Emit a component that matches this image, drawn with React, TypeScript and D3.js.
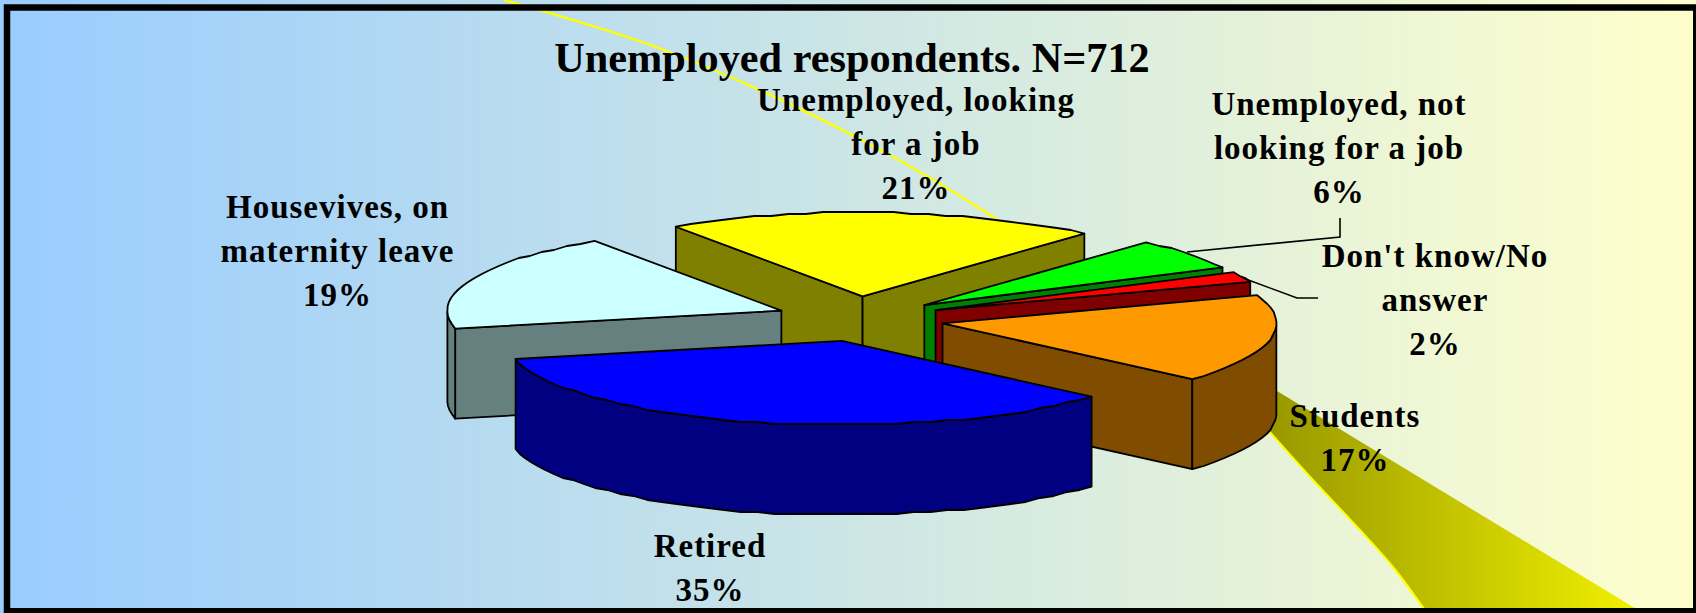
import React from 'react';
import * as d3 from 'd3';

const W = 1696, H = 613;
const categories = ['Unemployed, looking for a job', 'Unemployed, not looking for a job', "Don't know/No answer", 'Students', 'Retired', 'Housevives, on maternity leave'];
const shares = [21, 6, 2, 17, 35, 19];
const topColors = ['#ffff00', '#00ff00', '#ff0000', '#ff9900', '#0000ff', '#ccffff'];
const wallColors = ['#808000', '#008000', '#800000', '#804c00', '#000080', '#667f7f'];
const paintOrder = [0, 1, 2, 3, 5, 4];
const title = 'Unemployed respondents. N=712';
const labelLines = [
  ['Unemployed, looking', 'for a job', '21%'],
  ['Unemployed, not', 'looking for a job', '6%'],
  ["Don't know/No", 'answer', '2%'],
  ['Students', '17%'],
  ['Retired', '35%'],
  ['Housevives, on', 'maternity leave', '19%'],
];
const labelX = [916, 1339, 1435, 1355, 710, 337.5];
const labelFirstY = [111, 115, 267, 427, 557, 218];
const tailHead: [number, number][] = [[504, 0], [664, 50], [856, 137], [993, 217], [1100, 295]];
const tailLower: [number, number][] = [[1268, 430], [1313, 480], [1360, 530], [1393, 567], [1427, 613]];
const tailEdge: [number, number][] = [[1277, 391], [1643, 613]];
const leaderA: [number, number][] = [[1187, 252], [1340, 237], [1340, 218]];
const leaderB: [number, number][] = [[1243, 278], [1297, 298], [1318, 298]];

const cx = 860, cy = 319, rx = 334, ry = 84, depth = 90, explodeX = 0.25, explodeY = 0.27, skew = 0.13;
const toRad = Math.PI / 180;

export default function App() {
  // angle t runs clockwise on screen from +x; the first slice starts at 236 deg
  const arcs = d3.pie<number>().sort(null).startAngle(236 * toRad).endAngle((236 + 360) * toRad)(shares);
  const lineGen = d3.line();
  const tail = d3.line().curve(d3.curveCatmullRom.alpha(0.5));
  const tailHeadPath = tail(tailHead) as string;
  const tailLowerPath = tail(tailLower) as string;
  const comet = tailLowerPath + `L${tailEdge[1][0]},${tailEdge[1][1]}L${tailEdge[0][0]},${tailEdge[0][1]}Z`;

  const slices = paintOrder.map((i) => {
    const a = arcs[i];
    const mid = (a.startAngle + a.endAngle) / 2;
    const oy = cy + explodeY * ry * Math.sin(mid);
    const ox = cx + explodeX * rx * Math.cos(mid) + (oy - cy) * skew;
    const n = Math.max(3, Math.round((a.endAngle - a.startAngle) / toRad / 3));
    const ts = d3.range(n + 1).map((j) => a.startAngle + ((a.endAngle - a.startAngle) * j) / n);
    const rim = ts.map((t, j) => {
      const x = ox + rx * Math.cos(t);
      const y = oy + ry * Math.sin(t);
      const edge = j === 0 || j === n;
      return [x, edge ? y : Math.round(y / 2) * 2] as [number, number];
    });
    const front = rim.filter((_, j) => Math.sin(ts[j]) > -0.001);
    const wallPts: [number, number][] = [...front, ...front.slice().reverse().map(([x, y]) => [x, y + depth] as [number, number])];
    const apex: [number, number] = [ox, oy];
    const quad = (p: [number, number]): [number, number][] => [apex, p, [p[0], p[1] + depth], [ox, oy + depth]];
    const startVisible = Math.cos(a.startAngle) < 0;
    const endVisible = Math.cos(a.endAngle) > 0;
    return (
      <g key={categories[i]} stroke="#000" strokeWidth={1.8} strokeLinejoin="round">
        {startVisible && <path d={lineGen(quad(rim[0])) + 'Z'} fill={wallColors[i]} />}
        {endVisible && <path d={lineGen(quad(rim[rim.length - 1])) + 'Z'} fill={wallColors[i]} />}
        {front.length > 1 && <path d={lineGen(wallPts) + 'Z'} fill={wallColors[i]} />}
        <path d={lineGen([apex, ...rim]) + 'Z'} fill={topColors[i]} />
      </g>
    );
  });

  return (
    <svg width={W} height={H} viewBox={`0 0 ${W} ${H}`} style={{ position: 'fixed', left: 0, top: 0, display: 'block' }}>
      <defs>
        <linearGradient id="bg" x1="0" x2="1" y1="0" y2="0">
          <stop offset="0" stopColor="#99ccff" />
          <stop offset="1" stopColor="#ffffcc" />
        </linearGradient>
        <linearGradient id="cometFill" gradientUnits="userSpaceOnUse" x1={1260} x2={1700} y1={0} y2={0}>
          <stop offset="0" stopColor="#969600" />
          <stop offset="1" stopColor="#ffff00" />
        </linearGradient>
      </defs>
      <rect x={0} y={0} width={W} height={H} fill="url(#bg)" />
      <path d={comet} fill="url(#cometFill)" />
      <path d={tailHeadPath} fill="none" stroke="#ffff00" strokeWidth={2.4} />
      <path d={tailLowerPath} fill="none" stroke="#ffff00" strokeWidth={2} />
      {slices}
      <path d={lineGen(leaderA) as string} fill="none" stroke="#000" strokeWidth={1.6} />
      <path d={lineGen(leaderB) as string} fill="none" stroke="#000" strokeWidth={1.6} />
      <rect x={7} y={7.5} width={1689.25} height={603.75} fill="none" stroke="#000" strokeWidth={6.5} />
      <text x={852} y={72} textAnchor="middle" fontFamily="Liberation Serif" fontWeight="bold" fontSize={42.3} fill="#000">{title}</text>
      {labelLines.map((lines, i) => (
        <text key={categories[i]} textAnchor="middle" fontFamily="Liberation Serif" fontWeight="bold" fontSize={33} letterSpacing={1} fill="#000">
          {lines.map((l, j) => (
            <tspan key={l} x={labelX[i]} y={labelFirstY[i] + j * 44}>{l}</tspan>
          ))}
        </text>
      ))}
    </svg>
  );
}
